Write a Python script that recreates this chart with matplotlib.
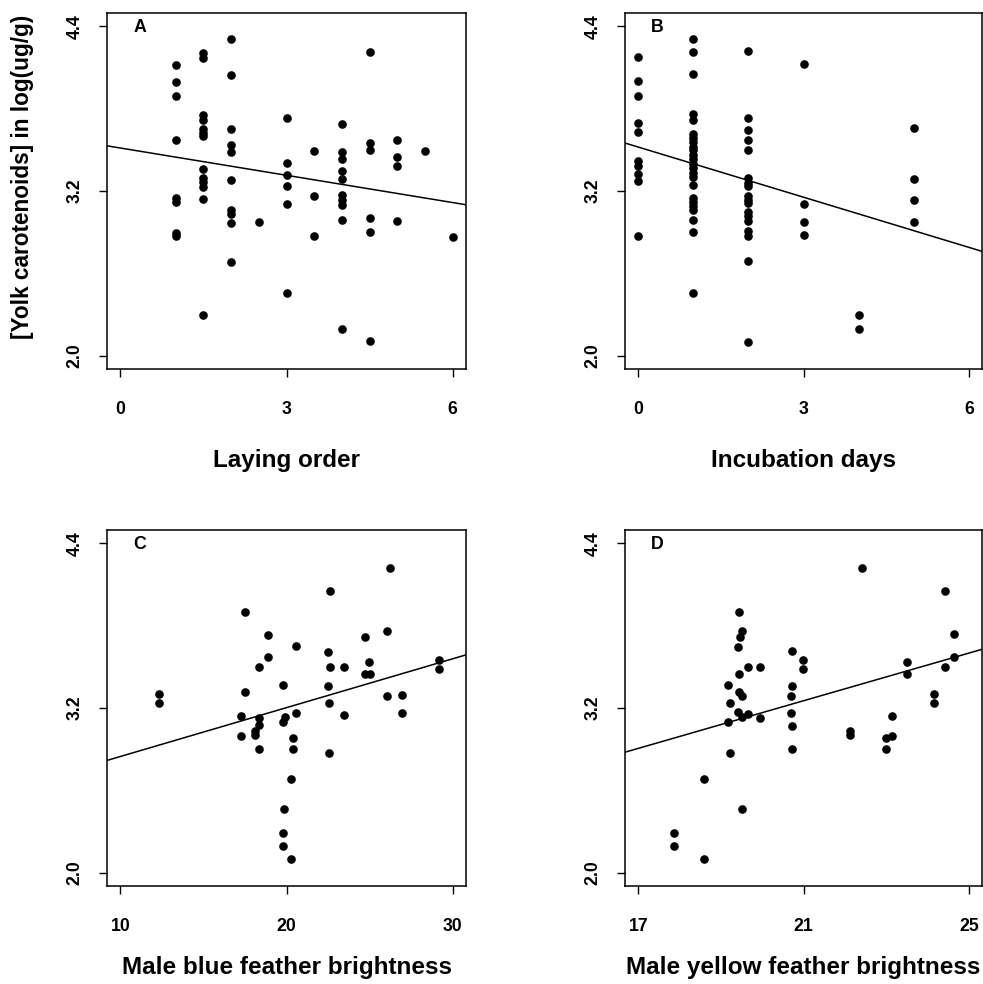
import matplotlib
matplotlib.use("Agg")
import matplotlib.pyplot as plt

plt.rcParams['font.family'] = ['Liberation Sans', 'DejaVu Sans']
plt.rcParams['font.weight'] = 'bold'

# Panel A: laying order vs yolk carotenoids
laying_x = [1, 1, 1, 1, 1, 1, 1, 1,
            1.5, 1.5, 1.5, 1.5, 1.5, 1.5, 1.5, 1.5, 1.5, 1.5, 1.5, 1.5, 1.5,
            2, 2, 2, 2, 2, 2, 2, 2, 2, 2,
            2.5,
            3, 3, 3, 3, 3, 3,
            3.5, 3.5, 3.5,
            4, 4, 4, 4, 4, 4, 4, 4, 4, 4,
            4.5, 4.5, 4.5, 4.5, 4.5, 4.5,
            5, 5, 5, 5,
            5.5,
            6]
laying_y = [4.115, 3.997, 3.889, 3.568, 3.151, 3.122, 2.897, 2.873,
            4.207, 4.171, 3.756, 3.717, 3.652, 3.621, 3.597, 3.363, 3.295, 3.262, 3.230, 3.141, 2.294,
            4.304, 4.043, 3.652, 3.532, 3.483, 3.283, 3.061, 3.032, 2.970, 2.683,
            2.972,
            3.729, 3.404, 3.315, 3.237, 3.102, 2.458,
            3.491, 3.163, 2.873,
            3.688, 3.483, 3.435, 3.346, 3.290, 3.170, 3.134, 3.098, 2.989, 2.198,
            4.209, 3.551, 3.496, 3.001, 2.900, 2.106,
            3.568, 3.445, 3.385, 2.982,
            3.491,
            2.868]

# Panel B: incubation days
incub_x = [0] * 10 + [1] * 24 + [2] * 18 + [3] * 4 + [4] * 2 + [5] * 4
incub_y = [4.177, 4.003, 3.894, 3.698, 3.633, 3.415, 3.384, 3.326, 3.275, 2.876,
           4.310, 4.209, 4.049, 3.761, 3.718, 3.616, 3.585, 3.556, 3.524, 3.495,
           3.464, 3.432, 3.398, 3.367, 3.331, 3.299, 3.246, 3.149, 3.118, 3.089,
           3.060, 2.992, 2.900, 2.460,
           4.216, 3.735, 3.645, 3.573, 3.495, 3.294, 3.258, 3.234, 3.166, 3.137,
           3.113, 3.047, 3.016, 2.985, 2.907, 2.876, 2.689, 2.104,
           4.122, 3.106, 2.975, 2.881,
           2.295, 2.198,
           3.657, 3.287, 3.137, 2.975]

# Panel C: male blue feather brightness
blue_x = [12.34, 12.34, 17.49, 18.90, 20.56, 18.90, 18.36, 17.49, 17.25, 18.36,
          18.36, 18.09, 18.09, 17.25, 18.36, 19.81, 19.89, 19.81, 20.56, 20.37,
          20.37, 20.29, 19.87, 19.81, 19.81, 20.29, 22.61, 22.49, 22.61, 23.46,
          22.49, 22.55, 23.46, 22.55, 24.73, 24.95, 24.73, 25.00, 26.04, 26.23,
          26.04, 26.93, 26.93, 29.17, 29.17]
blue_y = [3.303, 3.238, 3.898, 3.735, 3.648, 3.570, 3.497, 3.318, 3.145, 3.128,
          3.073, 3.036, 3.007, 2.993, 2.900, 3.369, 3.138, 3.097, 3.165, 2.983,
          2.900, 2.684, 2.461, 2.289, 2.197, 2.102, 4.051, 3.611, 3.497, 3.497,
          3.357, 3.238, 3.150, 2.871, 3.718, 3.534, 3.449, 3.449, 3.757, 4.220,
          3.286, 3.293, 3.165, 3.553, 3.485]

# Panel D: male yellow feather brightness
yellow_x = [17.86, 17.86, 18.60, 18.60, 19.52, 19.21, 19.17, 19.21, 19.17, 19.45,
            19.52, 19.46, 19.42, 19.45, 19.65, 19.95, 19.45, 19.52, 19.42, 19.52,
            19.65, 19.95, 20.73, 20.98, 20.98, 20.73, 20.70, 20.70, 20.71, 20.71,
            22.41, 22.13, 22.13, 23.13, 22.99, 23.15, 22.99, 23.51, 23.51, 24.15,
            24.15, 24.42, 24.65, 24.65, 24.42]
yellow_y = [2.291, 2.197, 2.102, 2.684, 2.461, 2.871, 3.097, 3.240, 3.369, 3.898,
            3.759, 3.716, 3.645, 3.449, 3.497, 3.497, 3.320, 3.286, 3.170, 3.133,
            3.158, 3.126, 3.614, 3.553, 3.485, 3.357, 3.291, 3.165, 3.068, 2.900,
            4.220, 3.036, 3.007, 3.145, 2.983, 2.993, 2.900, 3.534, 3.449, 3.303,
            3.238, 4.051, 3.738, 3.570, 3.497]

# fitted regression lines (intercept, slope)
fit_a = (3.513, -0.0662)
fit_b = (3.520, -0.1217)
fit_c = (2.491, 0.03558)
fit_d = (1.432, 0.0867)

y_ticks = [2.0, 3.2, 4.4]
y_tick_labels = ['2.0', '3.2', '4.4']

panels = [
    ('A', laying_x, laying_y, fit_a, (0, 6), [0, 3, 6], 'Laying order'),
    ('B', incub_x, incub_y, fit_b, (0, 6), [0, 3, 6], 'Incubation days'),
    ('C', blue_x, blue_y, fit_c, (10, 30), [10, 20, 30], 'Male blue feather brightness'),
    ('D', yellow_x, yellow_y, fit_d, (17, 25), [17, 21, 25], 'Male yellow feather brightness'),
]

fig = plt.figure(figsize=(9.83, 9.84), dpi=100)

W, H = 983.0, 984.0
boxes = [(107, 13, 466, 369), (625, 13, 982, 369),
         (107, 530, 466, 886), (625, 530, 982, 886)]
label_pads = [22, 22, 15, 15]

for (letter, xs, ys, fit, rng, xt, xlabel), (l, t, r, b), lp in zip(panels, boxes, label_pads):
    ax = fig.add_axes([l / W, 1 - b / H, (r - l) / W, (b - t) / H])
    pad = 0.04 * (rng[1] - rng[0])
    x0, x1 = rng[0] - pad, rng[1] + pad
    ax.set_xlim(x0, x1)
    ax.set_ylim(2.0 - 0.096, 4.4 + 0.096)

    ax.plot(xs, ys, 'o', color='black', ms=6.2, mew=0)
    ax.plot([x0, x1], [fit[0] + fit[1] * x0, fit[0] + fit[1] * x1],
            color='black', lw=1.1)

    ax.set_xticks(xt)
    ax.set_xticklabels([str(v) for v in xt], fontsize=12.7, fontweight='bold')
    ax.set_yticks(y_ticks)
    ax.set_yticklabels(y_tick_labels, fontsize=12.7, fontweight='bold',
                       rotation=90, va='center')
    ax.tick_params(axis='x', length=6, width=1.0, pad=17)
    ax.tick_params(axis='y', length=6, width=1.0, pad=11)
    for s in ax.spines.values():
        s.set_linewidth(1.1)

    ax.set_xlabel(xlabel, fontsize=17.5, fontweight='bold', labelpad=lp)
    ax.text(0.073, 0.982, letter, transform=ax.transAxes, ha='left', va='top',
            fontsize=12.8, fontweight='bold')

fig.text(23 / W, 1 - 177 / H, '[Yolk carotenoids] in log(ug/g)', rotation=90,
         ha='center', va='center', fontsize=16.3, fontweight='bold')

fig.savefig('out.png', dpi=100)
